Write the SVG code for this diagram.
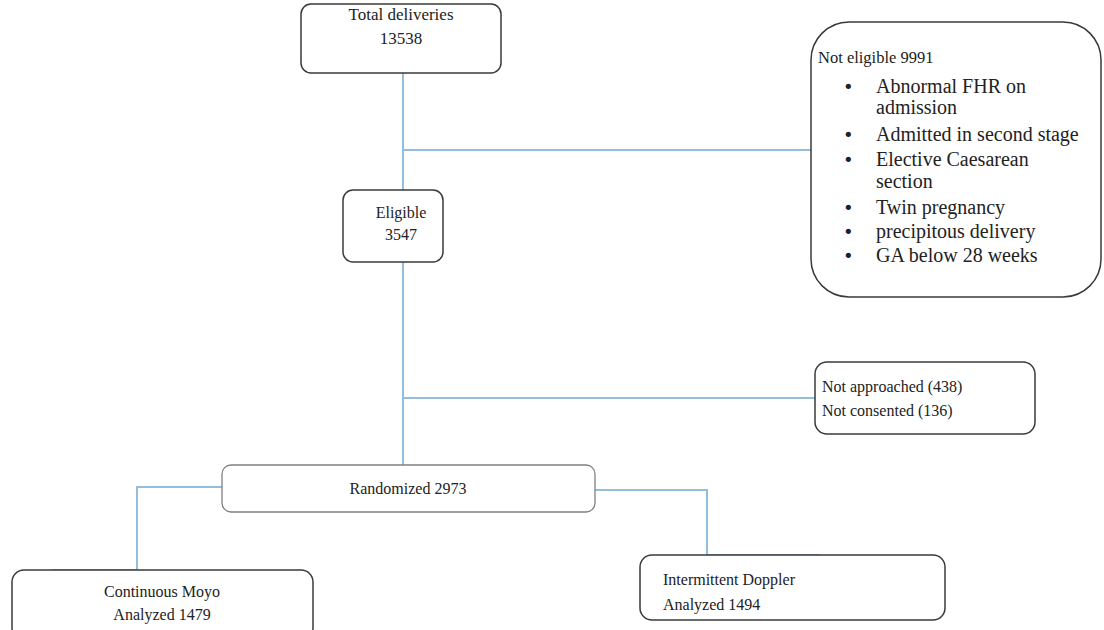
<svg xmlns="http://www.w3.org/2000/svg" width="1104" height="630" viewBox="0 0 1104 630">
<style>
.box{fill:#fff;stroke:#3a3a3a;stroke-width:1.5}
.box2{fill:#fff;stroke:#808080;stroke-width:1.3}
.ln{fill:none;stroke:#94bfdc;stroke-width:2}
text{font-family:"Liberation Serif",serif;font-size:16px;fill:#222}
.c{text-anchor:middle}
.b text{font-size:20px}
.b text.d{font-size:18px;font-family:"DejaVu Sans",sans-serif}
</style>
<rect width="1104" height="630" fill="#fff"/>
<g id="connectors">
<path class="ln" d="M403 73V190M403 150H811M403 262V465M403 398H815"/>
<path class="ln" d="M222 487H137V570H52"/>
<path class="ln" d="M595 490H707V555H820"/>
</g>
<g id="total">
<rect class="box" x="301" y="4" width="200" height="69" rx="10"/>
<text class="c" x="401" y="20" style="font-size:17px">Total deliveries</text>
<text class="c" x="401" y="44" style="font-size:17px">13538</text>
</g>
<g id="noteligible">
<rect class="box" x="811" y="22" width="290" height="275" rx="38"/>
<text x="818" y="63" style="font-size:16.5px">Not eligible 9991</text>
<g class="b">
<text class="d" x="843" y="93">•</text><text x="876" y="93">Abnormal FHR on</text>
<text x="876" y="114">admission</text>
<text class="d" x="843" y="141">•</text><text x="876" y="141">Admitted in second stage</text>
<text class="d" x="843" y="166">•</text><text x="876" y="166">Elective Caesarean</text>
<text x="876" y="188">section</text>
<text class="d" x="843" y="214">•</text><text x="876" y="214">Twin pregnancy</text>
<text class="d" x="843" y="238">•</text><text x="876" y="238">precipitous delivery</text>
<text class="d" x="843" y="262">•</text><text x="876" y="262">GA below 28 weeks</text>
</g>
</g>
<g id="eligible">
<rect class="box" x="343" y="190" width="100" height="72" rx="10"/>
<text class="c" x="401" y="218">Eligible</text>
<text class="c" x="401" y="240">3547</text>
</g>
<g id="notapproached">
<rect class="box" x="815" y="362" width="220" height="72" rx="12"/>
<text x="822" y="392">Not approached (438)</text>
<text x="822" y="416">Not consented (136)</text>
</g>
<g id="randomized">
<rect class="box2" x="222" y="465" width="373" height="47" rx="9"/>
<text class="c" x="408" y="494">Randomized 2973</text>
</g>
<g id="continuous">
<rect class="box" x="12" y="570" width="301" height="70" rx="12"/>
<text class="c" x="162" y="597">Continuous Moyo</text>
<text class="c" x="162" y="620">Analyzed 1479</text>
</g>
<g id="intermittent">
<rect class="box" x="640" y="555" width="305" height="65" rx="12"/>
<text x="663" y="585">Intermittent Doppler</text>
<text x="663" y="610">Analyzed 1494</text>
</g>
</svg>
